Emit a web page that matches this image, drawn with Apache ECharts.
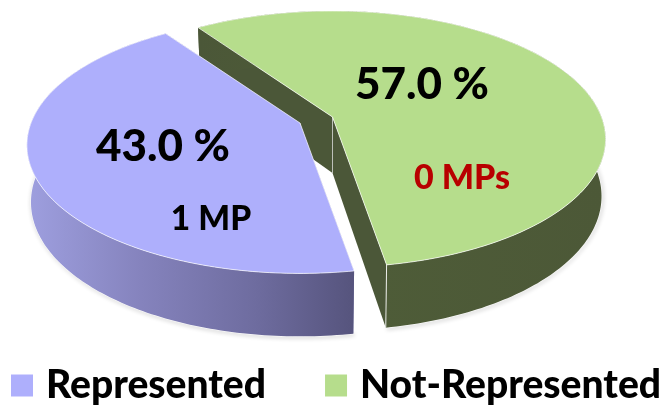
<!DOCTYPE html>
<html>
<head>
<meta charset="utf-8">
<style>html,body{margin:0;padding:0;background:#fff}#chart{width:668px;height:406px}</style>
<script src="https://cdn.jsdelivr.net/npm/echarts@6/dist/echarts.min.js"></script>
</head>
<body>
<div id="chart"></div>
<script>
// Representation share, drawn as an exploded 3D pie.
const categories = ['Represented', 'Not-Represented'];
const shares = [43.0, 57.0];
const seatLabels = ['1 MP', '0 MPs'];

const FONT = 'Lato, Carlito, "Open Sans", sans-serif';
const RAD = Math.PI / 180;
// The wedge sweep starts at the back-left of the disc and runs clockwise.
const START_ANGLE = -34.8;
const total = shares.reduce((a, b) => a + b, 0);
const sweep = i => shares[i] / total * 360;
const sliceAngles = {
  1: [START_ANGLE, START_ANGLE + sweep(1)],
  0: [START_ANGLE + sweep(1), START_ANGLE + sweep(1) + sweep(0)]
};

// Disc projection: perspective foreshortening plus a rim height.
const RX = 269, RY = 124.4, PERSP = 0.173, HEIGHT = 56, HEIGHT_PERSP = 0.11, FOOT = 0.985;
const looks = {
  0: {
    apex: [300, 123], top: '#aeaffc', wall: '#6a6a9c',
    side: [[0, '#9e9fdf'], [0.35, '#8583bd'], [0.7, '#6e6c9f'], [1, '#56547d']],
    pct: [163, 147], seat: [211, 219], seatColor: '#000000', seatSize: 33.5
  },
  1: {
    apex: [332.5, 117], top: '#b6dd8c', wall: '#4b5738',
    side: [[0, '#4b5738'], [0.22, '#4d5a37'], [0.3, '#55683c'], [0.42, '#4e5c38'], [1, '#4c5837']],
    pct: [422, 85], seat: [462, 178], seatColor: '#b80000', seatSize: 34
  }
};

function topPoint(apex, deg) {
  const u = Math.sin(deg * RAD), v = -Math.cos(deg * RAD), w = 1 - PERSP * v;
  return [apex[0] + RX * u / w, apex[1] + RY * v / w];
}
function footPoint(apex, deg) {
  const p = topPoint(apex, deg), v = -Math.cos(deg * RAD);
  return [apex[0] + (p[0] - apex[0]) * FOOT, p[1] + HEIGHT / (1 - HEIGHT_PERSP * v)];
}
function rim(fn, apex, from, to) {
  const pts = [];
  const n = Math.ceil(to - from);
  for (let i = 0; i <= n; i++) pts.push(fn(apex, from + (to - from) * i / n));
  return pts;
}

function renderSlice(params, api) {
  const idx = api.value(0);
  const look = looks[idx];
  const [a0, a1] = sliceAngles[idx];
  const apex = look.apex;
  const foot = [apex[0], apex[1] + HEIGHT];
  const topRim = rim(topPoint, apex, a0, a1);
  const footRim = rim(footPoint, apex, a0, a1);
  const edge = 'rgba(255,255,255,0.85)';
  const children = [];

  // Cast shadow of the lower outline.
  children.push({
    type: 'polyline',
    shape: { points: footRim },
    style: { fill: null, stroke: 'rgba(255,255,255,0.9)', lineWidth: 1, shadowBlur: 4, shadowColor: 'rgba(0,0,0,0.55)', shadowOffsetX: 1, shadowOffsetY: 1 }
  });
  // Cut faces running to the centre.
  children.push({
    type: 'polygon',
    shape: { points: [topRim[0], apex, foot, footRim[0]] },
    style: { fill: look.wall }
  });
  children.push({
    type: 'polygon',
    shape: { points: [topRim[topRim.length - 1], apex, foot, footRim[footRim.length - 1]] },
    style: { fill: look.wall }
  });
  children.push({
    type: 'line',
    shape: { x1: apex[0], y1: apex[1], x2: foot[0], y2: foot[1] },
    style: { stroke: 'rgba(220,220,220,0.7)', lineWidth: 1 }
  });
  // Outer rim band.
  children.push({
    type: 'polygon',
    shape: { points: topRim.concat(footRim.slice().reverse()) },
    style: { fill: new echarts.graphic.LinearGradient(0, 0, 1, 0, look.side.map(s => ({ offset: s[0], color: s[1] }))) }
  });
  children.push({
    type: 'line',
    shape: { x1: topRim[topRim.length - 1][0], y1: topRim[topRim.length - 1][1], x2: footRim[footRim.length - 1][0], y2: footRim[footRim.length - 1][1] },
    style: { stroke: idx === 1 ? edge : 'rgba(255,255,255,0)', lineWidth: 1 }
  });
  // Top face with its bright edge.
  children.push({
    type: 'polygon',
    shape: { points: topRim.concat([apex]) },
    style: { fill: look.top, stroke: edge, lineWidth: 0.8 }
  });
  // Share and seat captions.
  children.push({
    type: 'text',
    style: { text: shares[idx].toFixed(1) + ' %', x: look.pct[0], y: look.pct[1], align: 'center', verticalAlign: 'middle', font: '900 44px ' + FONT, fill: '#000' }
  });
  children.push({
    type: 'text',
    style: { text: seatLabels[idx], x: look.seat[0], y: look.seat[1], align: 'center', verticalAlign: 'middle', font: '900 ' + look.seatSize + 'px ' + FONT, fill: look.seatColor }
  });
  return { type: 'group', children };
}

const chart = echarts.init(document.getElementById('chart'), null, { renderer: 'canvas' });
chart.setOption({
  animation: false,
  backgroundColor: '#ffffff',
  color: [looks[0].top, looks[1].top],
  legend: {
    data: categories,
    left: 6,
    top: 361,
    itemWidth: 22,
    itemHeight: 22,
    itemGap: 59,
    icon: 'rect',
    textStyle: { fontFamily: FONT, fontWeight: 900, fontSize: 39, color: '#000', padding: [0, 0, 0, 8] }
  },
  // Back wedge first so the nearer one overlaps its cut face.
  series: [1, 0].map(i => ({
    type: 'custom',
    name: categories[i],
    coordinateSystem: 'none',
    renderItem: renderSlice,
    itemStyle: { color: looks[i].top },
    silent: true,
    data: [[i, shares[i]]]
  }))
});
</script>
</body>
</html>
